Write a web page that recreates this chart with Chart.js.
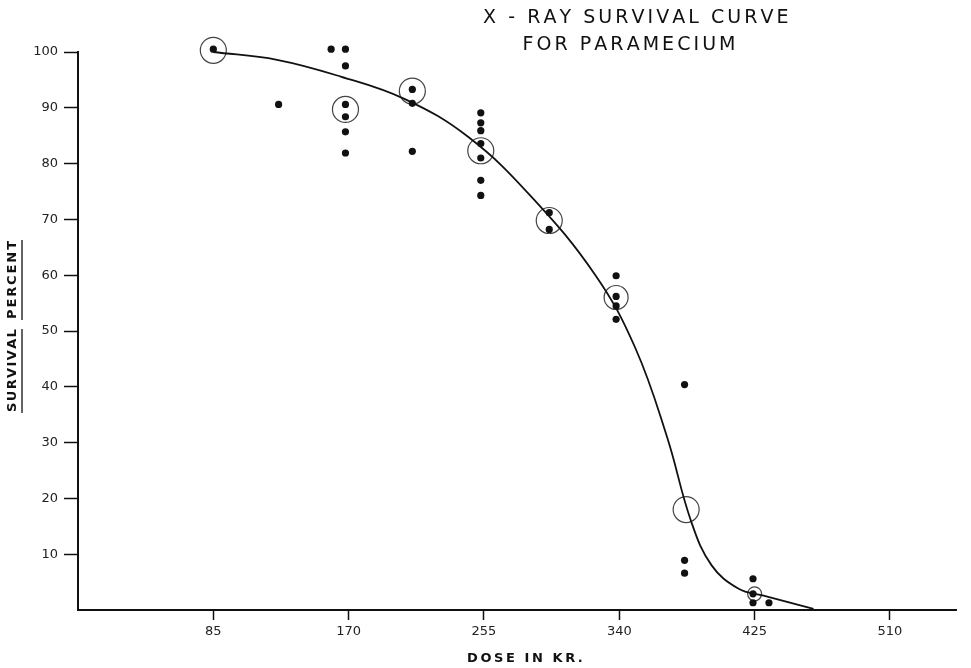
<!DOCTYPE html>
<html>
<head>
<meta charset="utf-8">
<title>X-Ray Survival Curve for Paramecium</title>
<script src="https://cdn.jsdelivr.net/npm/chart.js@4/dist/chart.umd.min.js"></script>
<style>
    html, body { margin: 0; padding: 0; background: #fff; }
    #chartWrap { width: 971px; height: 668px; }
</style>
</head>
<body>
<div id="chartWrap"><canvas id="survivalChart" width="971" height="668"></canvas></div>
<script>
// survival curve (dose in kr, percent surviving)
const curveDose = [85, 125, 165, 205, 245, 285, 325, 350, 370, 385, 398, 415, 430, 462];
const curveSurv = [100, 98.6, 95.6, 91.6, 84.8, 74.0, 60.0, 47.0, 31.0, 16.0, 8.0, 3.8, 2.6, 0.2];

// single experiments (solid dots)
const dotDose = [85, 126, 159,
    168, 168, 168, 168, 168, 168,
    210, 210, 210, 210,
    253, 253, 253, 253, 253, 253, 253,
    296, 296,
    338, 338, 338, 338,
    381, 381, 381,
    424, 424, 424, 434];
const dotSurv = [100.5, 90.6, 100.5,
    100.5, 97.5, 90.6, 88.4, 85.7, 81.9,
    100.8, 93.3, 90.8, 82.2,
    89.1, 87.3, 85.9, 83.6, 81.0, 77.0, 74.3,
    71.2, 68.2,
    59.9, 56.2, 54.5, 52.1,
    40.4, 8.9, 6.6,
    5.6, 2.9, 1.3, 1.3];

// averages (open circles)
const meanDose = [85, 168, 210, 253, 296, 338, 382, 425];
const meanSurv = [100.3, 89.7, 93.0, 82.3, 69.8, 56.0, 18.0, 2.9];
const meanRadius = [13, 13, 13, 13, 13, 12, 13, 7];

const xTickValues = [85, 170, 255, 340, 425, 510];
const titleLines = ['X - RAY SURVIVAL CURVE', 'FOR PARAMECIUM'];

const toPoints = (xs, ys) => xs.map((x, i) => ({ x: x, y: ys[i] }));

// draw text stretched to a given width by spreading the letters
function drawSpaced(ctx, text, cx, cy, width) {
    const natural = ctx.measureText(text).width;
    const gap = text.length > 1 ? (width - natural) / (text.length - 1) : 0;
    let x = cx - width / 2;
    ctx.textAlign = 'left';
    for (const ch of text) {
        ctx.fillText(ch, x, cy);
        x += ctx.measureText(ch).width + gap;
    }
}

const labelsPlugin = {
    id: 'labels',
    afterDraw(chart) {
        const ctx = chart.ctx;
        ctx.save();
        ctx.fillStyle = '#111';
        ctx.textBaseline = 'middle';

        // title, top right
        ctx.font = '19px "DejaVu Sans"';
        drawSpaced(ctx, titleLines[0], 633, 18, 300);
        drawSpaced(ctx, titleLines[1], 628, 45, 211);

        // x axis title
        ctx.font = 'bold 13px "DejaVu Sans"';
        drawSpaced(ctx, 'DOSE IN KR.', 525, 659, 116);

        // y axis title, two underlined words
        ctx.font = 'bold 13px "DejaVu Sans"';
        ctx.strokeStyle = '#111';
        ctx.lineWidth = 1.3;
        [['SURVIVAL', 371, 82], ['PERCENT', 280, 78]].forEach(([word, cy, len]) => {
            ctx.save();
            ctx.translate(13, cy);
            ctx.rotate(-Math.PI / 2);
            drawSpaced(ctx, word, 0, 0, len);
            ctx.beginPath();
            ctx.moveTo(-len / 2 - 1, 9);
            ctx.lineTo(len / 2 + 1, 9);
            ctx.stroke();
            ctx.restore();
        });
        ctx.restore();
    }
};

new Chart(document.getElementById('survivalChart'), {
    type: 'scatter',
    data: {
        datasets: [
            {
                type: 'line',
                data: toPoints(curveDose, curveSurv),
                borderColor: '#111',
                borderWidth: 1.8,
                pointRadius: 0,
                fill: false,
                tension: 0.4,
                clip: false
            },
            {
                data: toPoints(dotDose, dotSurv),
                pointRadius: 3.6,
                pointBackgroundColor: '#111',
                pointBorderWidth: 0,
                clip: false
            },
            {
                data: toPoints(meanDose, meanSurv),
                pointRadius: meanRadius,
                pointBackgroundColor: 'rgba(0,0,0,0)',
                pointBorderColor: '#444',
                pointBorderWidth: 1.2,
                clip: false
            }
        ]
    },
    options: {
        responsive: false,
        animation: false,
        layout: { padding: { top: 52, right: 8, left: 0, bottom: 0 } },
        plugins: {
            legend: { display: false },
            tooltip: { enabled: false },
            title: { display: false }
        },
        scales: {
            x: {
                type: 'linear',
                min: 0,
                max: 552,
                afterBuildTicks: scale => {
                    scale.ticks = xTickValues.map(v => ({ value: v }));
                },
                afterFit: scale => {
                    scale.height = 58;
                    // the axis runs to the right edge, no room kept for labels
                    scale.paddingLeft = 0;
                    scale.paddingRight = 0;
                },
                grid: {
                    drawOnChartArea: false,
                    tickLength: 10,
                    tickWidth: 1.5,
                    tickColor: '#111'
                },
                border: { color: '#111', width: 2 },
                ticks: {
                    color: '#222',
                    padding: 4,
                    maxRotation: 0,
                    font: { family: 'DejaVu Sans', size: 13 }
                }
            },
            y: {
                min: 0,
                max: 100,
                afterFit: scale => {
                    scale.width = 78;
                    scale.paddingTop = 0;
                    scale.paddingBottom = 0;
                },
                grid: {
                    drawOnChartArea: false,
                    tickLength: 14,
                    tickWidth: 1.5,
                    tickColor: c => (c.tick && c.tick.value === 0 ? 'rgba(0,0,0,0)' : '#111')
                },
                border: { color: '#111', width: 2 },
                ticks: {
                    stepSize: 10,
                    color: '#222',
                    padding: 6,
                    font: { family: 'DejaVu Sans', size: 13 },
                    callback: v => (v === 0 ? '' : v)
                }
            }
        }
    },
    plugins: [labelsPlugin]
});
</script>
</body>
</html>
